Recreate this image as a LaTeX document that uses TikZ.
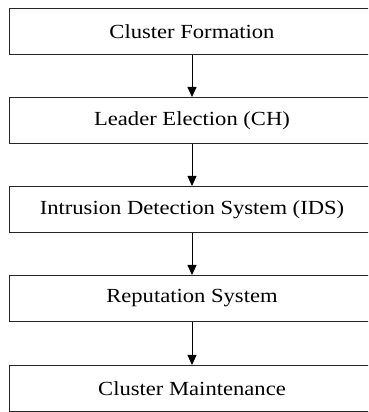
\documentclass[tikz,border=0pt]{standalone}
\usepackage{fontspec}
\setmainfont[FakeStretch=1.13]{Liberation Serif}
\usetikzlibrary{arrows.meta}
\begin{document}
\begin{tikzpicture}[x=1pt,y=1pt,
  stage/.style={draw=black!85, line width=1pt, rectangle, minimum width=366pt, minimum height=46pt, inner sep=0pt, font=\fontsize{20}{22}\selectfont},
  arr/.style={draw=black, line width=0.8pt, -{Triangle[width=9pt,length=10pt]}}]
\useasboundingbox (0,0) rectangle (368,412);
\clip (0,0) rectangle (368,412);
\node[stage] (b1) at (192,380) {Cluster Formation};
\node[stage] (b2) at (192,291.5) {Leader Election (CH)};
\node[stage] (b3) at (192,202.5) {Intrusion Detection System (IDS)};
\node[stage] (b4) at (192,113.5) {Reputation System};
\node[stage] (b5) at (192,23.5) {Cluster Maintenance};
\draw[arr] (b1) -- (b2);
\draw[arr] (b2) -- (b3);
\draw[arr] (b3) -- (b4);
\draw[arr] (b4) -- (b5);
\end{tikzpicture}
\end{document}
